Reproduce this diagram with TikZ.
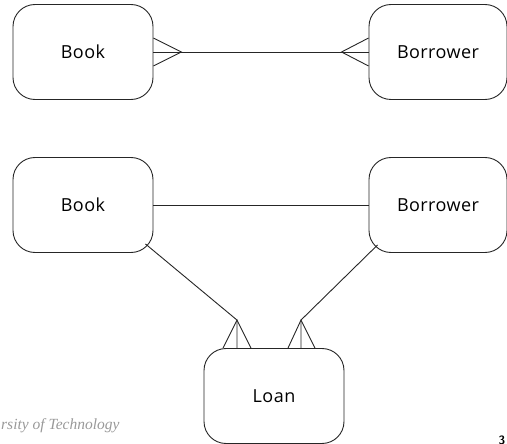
\documentclass[tikz,border=0pt]{standalone}
\usepackage{fontspec}
\setmainfont{Open Sans}
\newfontfamily\boxfont[LetterSpace=2.5]{Open Sans}
\newfontfamily\serifit{Liberation Serif}
\begin{document}
\begin{tikzpicture}[x=1pt,y=-1pt,
  entity/.style={draw=black!85, line width=0.9pt, rounded corners=22pt, minimum width=140pt, minimum height=95pt, inner sep=0pt, font=\boxfont\fontsize{18}{20}\selectfont},
  link/.style={draw=black!85, line width=0.9pt},
  footer/.style={font=\serifit\itshape\fontsize{15.5}{17}\selectfont, text=black!40, inner sep=0pt}]
\useasboundingbox (0,0) rectangle (507,444);
\clip (0,0) rectangle (507,444);
% top row
\node[entity] (bookA) at (83,52) {Book};
\node[entity, minimum width=138pt] (borrA) at (438,52) {Borrower};
% middle row
\node[entity] (bookB) at (83,205) {Book};
\node[entity, minimum width=138pt] (borrB) at (438,205) {Borrower};
% bottom
\node[entity] (loan) at (274,396) {Loan};
% top many-to-many
\draw[link] (bookA.east) -- (borrA.west);
\coordinate (tipA) at ([xshift=28pt]bookA.east);
\coordinate (tipB) at ([xshift=-27pt]borrA.west);
\draw[link] ([yshift=-14pt]bookA.east) -- (tipA) -- ([yshift=14pt]bookA.east);
\draw[link] ([yshift=-14pt]borrA.west) -- (tipB) -- ([yshift=14pt]borrA.west);
% middle
\draw[link] (bookB.east) -- (borrB.west);
\coordinate (bookC) at ([shift={(-8,-9)}]bookB.south east);
\coordinate (borrC) at ([shift={(9,-8)}]borrB.south west);
\coordinate (tipL) at ([shift={(-37,-28)}]loan.north);
\coordinate (tipR) at ([shift={(27,-28)}]loan.north);
\coordinate (baseL) at ([xshift=-37pt]loan.north);
\coordinate (baseR) at ([xshift=27pt]loan.north);
\draw[link] (bookC) -- (tipL) -- (baseL);
\draw[link] ([xshift=-14pt]baseL) -- (tipL) -- ([xshift=14pt]baseL);
\draw[link] (borrC) -- (tipR) -- (baseR);
\draw[link] ([xshift=-13pt]baseR) -- (tipR) -- ([xshift=14pt]baseR);
% footer remnants
\node[footer, anchor=base west] (uni) at (1,429) {rsity of Technology};
\node[footer, anchor=base east] (lec) at (56,456) {ion \#13};
\node[font=\sffamily\bfseries\fontsize{12}{14}\selectfont, anchor=north, inner sep=0pt] (pg) at (502,436) {3};
\end{tikzpicture}
\end{document}
